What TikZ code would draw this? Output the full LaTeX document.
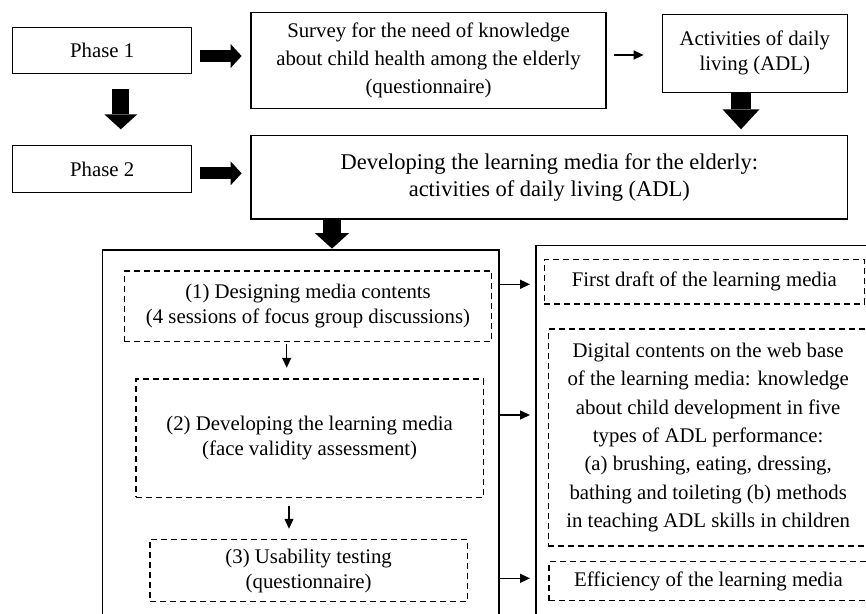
\documentclass[tikz,border=0pt]{standalone}
\usepackage{fontspec}
\setmainfont{Liberation Serif}
\usetikzlibrary{arrows.meta}
\begin{document}
\begin{tikzpicture}[x=1pt,y=-1pt,
  txt/.style={font=\fontsize{20.8}{#1}\selectfont},
  bigtxt/.style={font=\fontsize{22.5}{#1}\selectfont},
  box/.style={draw, line width=1.4pt, align=center, inner sep=0pt},
  dbox/.style={draw, line width=1.1pt, dash pattern=on 6pt off 4pt, align=center, inner sep=0pt},
  fatarrow/.style n args={3}{line width=#1, -{Triangle[length=#2,width=#3,line width=0pt]}},
  tarrow/.style={line width=1.4pt, -{Triangle[length=10pt,width=9pt]}}]
\useasboundingbox (0,0) rectangle (866,613);
\clip (0,0) rectangle (866,613);
% top part
\node[box, txt=25, minimum width=179pt, minimum height=46pt] (p1) at (102.2,50.3) {Phase 1};
\node[box, txt=25, minimum width=179pt, minimum height=47pt] (p2) at (102.2,169.2) {Phase 2};
\node[box, txt=28, minimum width=355pt, minimum height=96pt] (sv) at (428.5,60.3)
  {Survey for the need of knowledge\\about child health among the elderly\\(questionnaire)};
\node[box, txt=25, minimum width=185pt, minimum height=78pt] (act) at (754.8,53.3)
  {Activities of daily\\living (ADL)};
\node[box, bigtxt=26.5, minimum width=596.7pt, minimum height=83.3pt] (dev) at (549.35,177.35)
  {Developing the learning media for the elderly:\\activities of daily living (ADL)};
% bottom part
\node[box, minimum width=396.3pt, minimum height=390pt] (L) at (300.85,445) {};
\node[box, minimum width=344pt, minimum height=394.3pt] (R) at (708,442.85) {};
\node[dbox, txt=25, minimum width=367.4pt, minimum height=70.7pt] (d1) at (308,306.35)
  {(1) Designing media contents\\(4 sessions of focus group discussions)};
\node[dbox, txt=25, minimum width=347.3pt, minimum height=118.3pt] (d2) at (309.65,438.15)
  {(2) Developing the learning media\\(face validity assessment)};
\node[dbox, txt=25, minimum width=317.3pt, minimum height=62.4pt] (d3) at (308.65,570.5)
  {(3) Usability testing\\(questionnaire)};
\node[dbox, txt=25, minimum width=320pt, minimum height=44.7pt] (ra) at (704.3,281.65)
  {First draft of the learning media};
\node[dbox, txt=28.3, minimum width=319.7pt, minimum height=217pt] (rb) at (708.15,437.5)
  {Digital contents on the web base\\of the learning media: knowledge\\about child development in five\\types of ADL performance:\\(a) brushing, eating, dressing,\\bathing and toileting (b) methods\\in teaching ADL skills in children};
\node[dbox, txt=25, minimum width=319pt, minimum height=39pt] (rc) at (708.5,581.2)
  {Efficiency of the learning media};
% helper coordinates
\coordinate (y1) at (0,56);
\coordinate (y2) at (0,173.3);
\coordinate (x1) at (120.8,0);
\coordinate (x2) at (741,0);
\coordinate (x3) at (332,0);
\coordinate (x4) at (286.7,0);
\coordinate (x5) at (289,0);
% fat arrows
\draw[fatarrow={12pt}{11pt}{24pt}, shorten <=7.6pt, shorten >=8.7pt] (p1.east |- y1) -- (sv.west |- y1);
\draw[fatarrow={12pt}{11pt}{24pt}, shorten <=7.6pt, shorten >=8.7pt] (p2.east |- y2) -- (dev.west |- y2);
\draw[fatarrow={17pt}{15pt}{33pt}, shorten <=15pt, shorten >=15.7pt] (p1.south -| x1) -- (p2.north -| x1);
\draw[fatarrow={20pt}{20pt}{37pt}, shorten >=5.7pt] (act.south -| x2) -- (dev.north -| x2);
\draw[fatarrow={17.4pt}{15.6pt}{34.3pt}, shorten >=0.7pt] (dev.south -| x3) -- (L.north -| x3);
% thin arrows
\draw[tarrow, shorten <=7.3pt, shorten >=18pt] ([yshift=-1.7pt]act.west -| sv.east) -- ([yshift=-1.7pt]act.west);
\draw[tarrow, shorten <=1.6pt, shorten >=10.7pt] (d1.south -| x4) -- (d2.north -| x4);
\draw[tarrow, shorten <=7.7pt, shorten >=10pt] (d2.south -| x5) -- (d3.north -| x5);
\draw[tarrow, shorten >=5.3pt] ([yshift=-35pt]L.north east) -- ([yshift=-35pt]L.north east -| R.west);
\draw[tarrow, shorten >=5.3pt] ([yshift=-165.7pt]L.north east) -- ([yshift=-165.7pt]L.north east -| R.west);
\draw[tarrow, shorten >=5.3pt] ([yshift=-329pt]L.north east) -- ([yshift=-329pt]L.north east -| R.west);
\end{tikzpicture}
\end{document}
